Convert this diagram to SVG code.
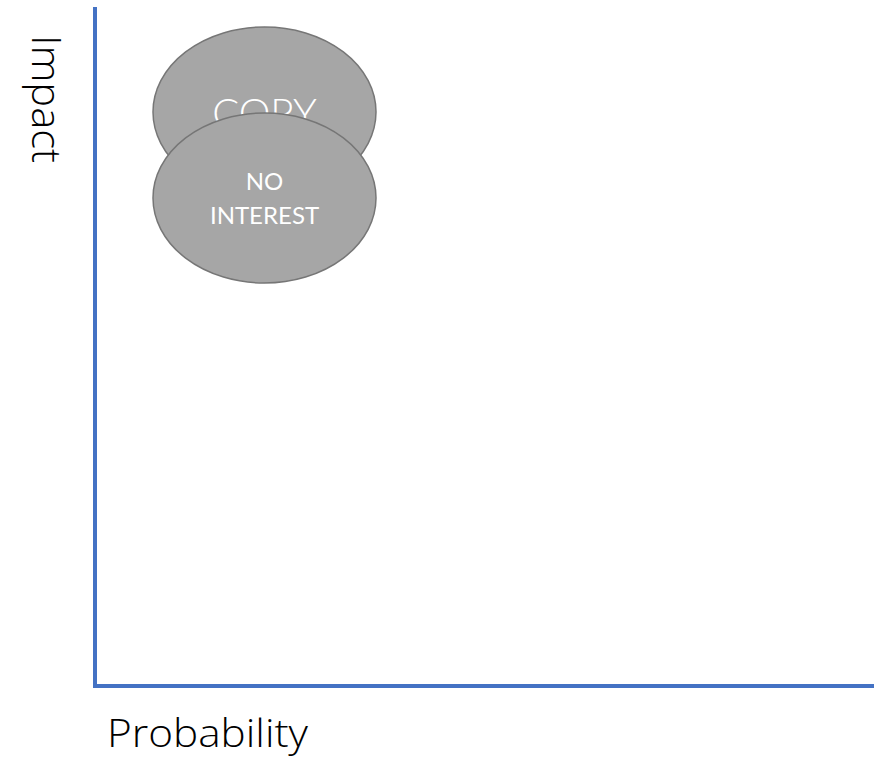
<svg xmlns="http://www.w3.org/2000/svg" width="874" height="758" viewBox="0 0 874 758">
  <style>
    .axis { stroke: #4472C4; stroke-width: 4; fill: none; }
    .bubble { fill: #A6A6A6; stroke: #767676; stroke-width: 1.5; }
    .label { font-family: "Open Sans", "Liberation Sans", sans-serif; fill: #000000; font-weight: 300; }
    .inner { font-family: Lato, "Liberation Sans", sans-serif; fill: #FFFFFF; text-anchor: middle; }
  </style>
  <rect width="874" height="758" fill="#FFFFFF"/>
  <!-- quadrant axes -->
  <g id="axes">
    <line class="axis" x1="95" y1="7" x2="95" y2="688"/>
    <line class="axis" x1="93" y1="686" x2="874" y2="686"/>
  </g>
  <text class="label" font-size="40" transform="translate(32,35) rotate(90)" textLength="128" lengthAdjust="spacingAndGlyphs">Impact</text>
  <text class="label" font-size="38" x="107" y="747" textLength="201" lengthAdjust="spacingAndGlyphs">Probability</text>
  <!-- risk bubbles -->
  <g id="copy">
    <ellipse class="bubble" cx="264.5" cy="112" rx="111.5" ry="85"/>
    <text class="inner" x="264.5" y="127" font-size="40" font-weight="300">COPY</text>
  </g>
  <g id="no-interest">
    <ellipse class="bubble" cx="264.5" cy="198" rx="111.5" ry="85"/>
    <text class="inner" x="264.5" y="190" font-size="24">NO</text>
    <text class="inner" x="264.5" y="224" font-size="24">INTEREST</text>
  </g>
</svg>
